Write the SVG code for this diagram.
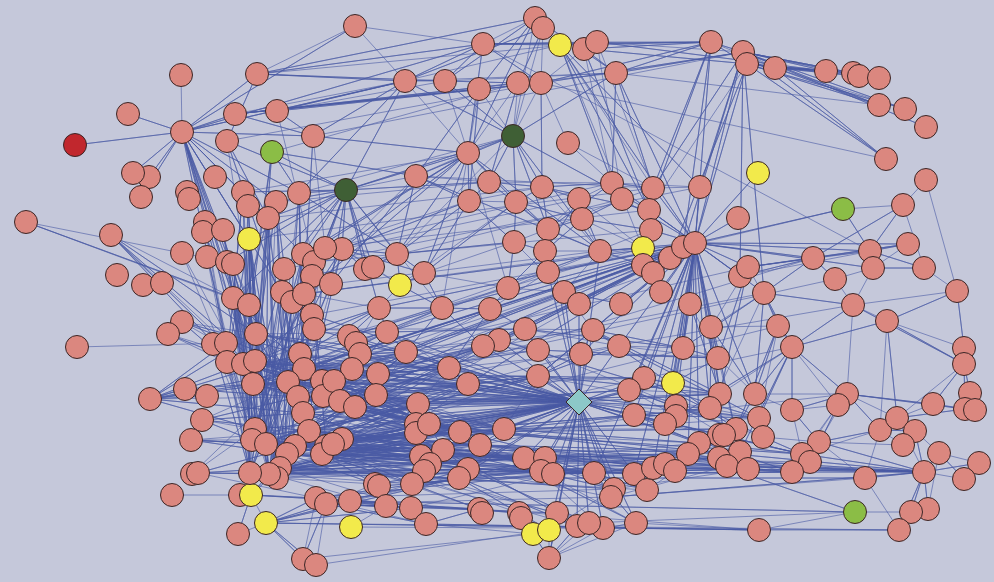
<svg xmlns="http://www.w3.org/2000/svg" width="994" height="582" viewBox="0 0 994 582">
<style>
.bg{fill:#c5c8da}
#edges path{fill:none;stroke:#4a5aa5;stroke-width:0.85;stroke-opacity:0.72;stroke-linejoin:round}
#nodes circle,#nodes polygon{stroke:#3b2626;stroke-width:1}
.p{fill:#db877f}.y{fill:#f2ea4b}.g{fill:#8bbd46}.d{fill:#3f5f35}.r{fill:#c1272d}.t{fill:#8cc8c8}
</style>
<rect class="bg" x="0" y="0" width="994" height="582"/>
<g id="edges">
<path d="M181 75L182 132 128 114 182 132 75 145 182 132 133 173 182 132 149 177 182 132 141 197 182 132 257 74 182 132 405 81 182 132 483 44 182 132 355 26 182 132 235 114 182 132 313 136 182 132 299 193 182 132 233 298 182 132 249 305 182 132 256 334 182 132 243 364 182 132 255 361 182 132 253 384 182 132 227 262 182 132 249 239 182 132 268 218 182 132 303 254 182 132 226 343 182 132 282 292 182 132 276 202 182 132 560 45"/>
<path d="M355 26L257 74 405 81 257 74 483 44 257 74 445 81 257 74 535 18 257 74 227 141 257 74 597 42"/>
<path d="M405 81L235 114 479 89 235 114 518 83 235 114 541 83 235 114 313 136 235 114 616 73"/>
<path d="M445 81L277 111 405 81 277 111 541 83 277 111 313 136 277 111 314 262"/>
<path d="M256 334L227 141 268 218 227 141 304 369 227 141 346 190 227 141 541 83"/>
<path d="M249 305L272 152 255 361 272 152 243 364 272 152 299 193 272 152 346 190 272 152 416 176 272 152 518 83"/>
<path d="M325 248L313 136 304 294 313 136 468 153 313 136 405 81 313 136 743 52"/>
<path d="M227 262L26 222 233 298 26 222 249 305"/>
<path d="M233 298L111 235 256 334 111 235 243 364 111 235 253 384 111 235 255 361 111 235 226 343"/>
<path d="M77 347L226 343"/>
<path d="M185 389L150 399 207 396 150 399 256 334 150 399 243 364 150 399 253 384 150 399 300 354 150 399 288 382 150 399 304 369 150 399 303 413 150 399 255 429 150 399 226 343 150 399 298 397"/>
<path d="M256 334L182 322 304 369 182 322 300 354 182 322 253 384 182 322 288 382"/>
<path d="M255 361L168 334 243 364 168 334 298 397"/>
<path d="M253 384L185 389 298 397 185 389 288 382"/>
<path d="M255 429L202 420 252 440 202 420 298 397 202 420 303 413 202 420 309 431 202 420 288 382"/>
<path d="M252 440L191 440 295 446 191 440 266 444 191 440 287 454 191 440 309 431"/>
<path d="M250 473L198 473 269 474 198 473 295 446 198 473 280 468 198 473 316 498"/>
<path d="M255 429L192 474 288 382 M172 495L240 495"/>
<path d="M266 523L251 495 238 534 251 495 269 474 251 495 316 498 251 495 350 501 251 495 280 468 251 495 240 495"/>
<path d="M238 534L266 523 303 559 266 523 316 565 266 523 316 498 266 523 326 504 266 523 350 501 266 523 411 508 266 523 459 478 266 523 759 530 266 523 899 530"/>
<path d="M533 534L303 559 326 504 303 559 316 498 M549 530L316 565 326 504"/>
<path d="M250 473L249 239 269 474 249 239 252 440 249 239 255 429 249 239 253 384 249 239 243 364 249 239 227 362 249 239 277 478 249 239 266 444 249 239 287 454 249 239 653 188"/>
<path d="M250 473L268 218 277 478 268 218 255 429 268 218 253 384 268 218 227 362 268 218 280 468 268 218 266 444 268 218 295 446 268 218 542 187"/>
<path d="M252 440L248 206 269 474 248 206 243 364 248 206 256 334"/>
<path d="M255 429L243 192 250 473 243 192 227 362 243 192 233 298 243 192 468 153"/>
<path d="M266 444L276 202 287 454 276 202 303 413 276 202 255 361 276 202 288 382 276 202 489 182"/>
<path d="M269 474L299 193 280 468 299 193 304 369 299 193 303 413 299 193 346 190 299 193 397 254 299 193 513 136"/>
<path d="M250 473L233 264 277 478 233 264 252 440 233 264 309 431"/>
<path d="M255 429L227 262 269 474 227 262 266 444"/>
<path d="M243 364L223 230 253 384 223 230 252 440"/>
<path d="M256 334L203 232 255 361 M226 343L205 222 227 362 M250 473L207 257 252 440 M253 384L182 253 255 429"/>
<path d="M277 478L284 269 295 446 284 269 253 384 284 269 250 473 284 269 700 187"/>
<path d="M269 474L303 254 266 444 303 254 255 429 303 254 287 454 303 254 612 183"/>
<path d="M280 468L314 262 252 440 314 262 303 413 314 262 651 230"/>
<path d="M255 429L312 276 250 473 312 276 326 446 312 276 622 199"/>
<path d="M287 454L325 248 269 474 325 248 309 431 325 248 649 210"/>
<path d="M266 444L331 284 250 473 331 284 600 251"/>
<path d="M280 468L342 249 255 429 342 249 253 384 342 249 295 446 342 249 579 199"/>
<path d="M269 474L233 298 287 454 233 298 304 369 233 298 322 454 233 298 250 473 233 298 252 440 233 298 255 429"/>
<path d="M252 440L249 305 280 468 249 305 309 431 249 305 326 446 249 305 250 473 249 305 269 474 249 305 277 478"/>
<path d="M277 478L256 334 322 454 256 334 303 413"/>
<path d="M250 473L282 292 266 444 282 292 298 397"/>
<path d="M252 440L292 302 269 474 292 302 322 381"/>
<path d="M255 429L304 294 280 468 304 294 643 248"/>
<path d="M250 473L312 315 266 444 312 315 243 364 312 315 695 243"/>
<path d="M252 440L314 329 269 474"/>
<path d="M250 473L226 343 252 440 226 343 269 474 M252 440L213 344 250 473 213 344 255 429 M250 473L243 364 269 474 243 364 252 440 M250 473L227 362 252 440"/>
<path d="M376 395L266 444 418 404 266 444 460 432 266 444 480 445 266 444 504 429 266 444 524 458 266 444 545 458 266 444 594 473 266 444 355 407 266 444 449 368 266 444 483 346"/>
<path d="M378 374L287 454 406 352 287 454 449 368 287 454 468 384 287 454 538 376 287 454 418 404 287 454 429 424 287 454 480 445 287 454 553 474 287 454 634 474"/>
<path d="M379 308L280 468 387 332 280 468 406 352 280 468 460 432 280 468 504 429 280 468 524 458 280 468 594 473 280 468 614 489 280 468 647 490"/>
<path d="M379 308L253 384 442 308 253 384 490 309 253 384 406 352 253 384 449 368 253 384 468 384 253 384 538 376 253 384 418 404 253 384 429 424 253 384 416 433 253 384 443 450"/>
<path d="M378 374L243 364 376 395 243 364 418 404 243 364 460 432 243 364 480 445 243 364 449 368 243 364 499 340"/>
<path d="M406 352L255 361 449 368 255 361 468 384 255 361 418 404 255 361 460 432 255 361 352 369 255 361 340 401"/>
<path d="M416 433L250 473 443 450 250 473 459 478 250 473 468 469 250 473 524 458 250 473 545 458 250 473 594 473"/>
<path d="M421 456L269 474 429 424 269 474 480 445 269 474 504 429 269 474 541 471"/>
<path d="M355 407L252 440 376 395 252 440 418 404 252 440 460 432 252 440 443 450 252 440 421 456"/>
<path d="M406 352L298 397 418 404 298 397 460 432 298 397 480 445 298 397 504 429 298 397 524 458"/>
<path d="M360 354L288 382 387 332 288 382 449 368 288 382 468 384 288 382 418 404 288 382 429 424"/>
<path d="M418 404L304 369 429 424 304 369 460 432 304 369 480 445"/>
<path d="M352 369L303 413 378 374 303 413 406 352 303 413 483 346 303 413 499 340 303 413 525 329"/>
<path d="M376 395L309 431 418 404 309 431 468 384 309 431 538 376 309 431 480 445 309 431 524 458"/>
<path d="M406 352L295 446 418 404 295 446 460 432 295 446 504 429 295 446 468 469"/>
<path d="M378 374L326 446 418 404 326 446 460 432 326 446 504 429 M376 395L322 454 416 424 322 454 468 384 322 454 460 432"/>
<path d="M418 404L227 362 443 450 227 362 352 369 227 362 378 374 M387 332L256 334 406 352 256 334 449 368 256 334 418 404"/>
<path d="M255 361L579 402 253 384 579 402 288 382 579 402 298 397 579 402 304 369 579 402 322 381 579 402 323 396 579 402 303 413 579 402 309 431 579 402 255 429 579 402 266 444 579 402 295 446 579 402 287 454 579 402 280 468 579 402 326 446 579 402 322 454 579 402 300 354 579 402 243 364 579 402 256 334 579 402 314 329 579 402 312 315 579 402 342 439 579 402 333 444 579 402 340 401 579 402 355 407 579 402 352 369 579 402 334 381 579 402 376 395 579 402 378 374 579 402 418 404 579 402 429 424 579 402 416 433 579 402 460 432 579 402 480 445 579 402 504 429 579 402 443 450 579 402 421 456 579 402 468 469 579 402 459 478 579 402 524 458 579 402 545 458 579 402 541 471 579 402 553 474 579 402 594 473 579 402 614 489 579 402 538 376 579 402 538 350 579 402 581 354 579 402 593 330 579 402 619 346 579 402 579 304 579 402 564 292 579 402 600 251 579 402 548 272 579 402 629 390 579 402 644 378 579 402 634 415 579 402 673 383 579 402 665 424 579 402 676 416 579 402 710 408 579 402 720 394 579 402 699 443 579 402 802 454 579 402 792 472 579 402 611 497 579 402 647 490 579 402 549 530 579 402 557 513 579 402 577 526 579 402 589 523 579 402 603 528 579 402 636 523 579 402 549 558 579 402 548 229 579 402 483 346 579 402 499 340 579 402 525 329 579 402 406 352 579 402 449 368 579 402 468 384 579 402 387 332 579 402 360 354 579 402 349 336 579 402 252 440 579 402 269 474 579 402 250 473 579 402 759 418"/>
<path d="M683 247L695 243 670 258 695 243 651 230 695 243 653 273 695 243 643 265 695 243 661 292 695 243 690 304 695 243 711 327 695 243 683 348 695 243 718 358 695 243 673 383 695 243 676 406 695 243 665 424 695 243 629 390 695 243 644 378 695 243 634 415 695 243 619 346 695 243 593 330 695 243 581 354 695 243 621 304 695 243 579 304 695 243 564 292 695 243 538 376 695 243 525 329 695 243 499 340 695 243 483 346 695 243 442 308 695 243 406 352 695 243 449 368 695 243 468 384 695 243 379 308 695 243 387 332 695 243 360 354 695 243 322 381 695 243 304 369 695 243 298 397 695 243 253 384 695 243 304 294 695 243 594 473 695 243 634 474 695 243 653 468 695 243 665 464 695 243 688 454 695 243 699 443 695 243 724 435 695 243 720 394 695 243 710 408 695 243 755 394 695 243 740 452 695 243 748 267 695 243 740 276 695 243 738 218 695 243 700 187 695 243 813 258 695 243 870 251 695 243 908 244 695 243 873 268 695 243 843 209 695 243 764 293 695 243 758 173 695 243 711 42 695 243 743 52 695 243 747 64 695 243 616 73 695 243 560 45 695 243 653 188 695 243 649 210 695 243 612 183 695 243 622 199 695 243 600 251 695 243 548 272 695 243 303 413 695 243 309 431"/>
<path d="M597 42L711 42 584 49 711 42 560 45 711 42 483 44 711 42 541 83 711 42 616 73 711 42 653 188 711 42 649 210 711 42 683 247 711 42 743 52 711 42 747 64 711 42 775 68"/>
<path d="M775 68L743 52 826 71 743 52 853 73 743 52 859 76 743 52 879 78 743 52 879 105 743 52 905 109 743 52 926 127 743 52 886 159 743 52 616 73 743 52 541 83 743 52 683 247 743 52 653 188 743 52 700 187 743 52 740 276 743 52 764 293 743 52 597 42"/>
<path d="M775 68L747 64 826 71 747 64 853 73 747 64 879 78 747 64 879 105 747 64 905 109 747 64 886 159 747 64 670 258 747 64 649 210"/>
<path d="M826 71L775 68 853 73 775 68 879 105 775 68 886 159 775 68 859 76 775 68 905 109 M541 83L886 159"/>
<path d="M870 251L483 44 405 81 483 44 445 81 483 44 541 83 483 44 597 42 483 44 560 45 483 44 468 153 483 44 355 26"/>
<path d="M903 205L843 209 870 251 843 209 683 247"/>
<path d="M926 180L903 205 870 251 903 205 813 258 903 205 924 268 M926 180L957 291"/>
<path d="M870 251L813 258 835 279 813 258 748 267 813 258 764 293 813 258 740 276 813 258 908 244"/>
<path d="M908 244L870 251 873 268 870 251 924 268 870 251 748 267 M873 268L908 244 748 267 908 244 740 276"/>
<path d="M835 279L873 268 924 268 873 268 853 305 M835 279L853 305"/>
<path d="M924 268L957 291 887 321 957 291 964 348 957 291 853 305"/>
<path d="M792 347L748 267 720 394 748 267 718 358 748 267 711 327"/>
<path d="M711 327L764 293 778 326 764 293 792 347 764 293 755 394 764 293 683 348 764 293 853 305 764 293 710 408"/>
<path d="M718 358L690 304 683 348 690 304 720 394 690 304 665 424"/>
<path d="M887 321L853 305 964 364 853 305 792 347 853 305 847 394"/>
<path d="M964 348L887 321 964 364 887 321 792 347 887 321 897 418 887 321 880 430"/>
<path d="M778 326L711 327 720 394 711 327 710 408 711 327 755 394 711 327 740 452"/>
<path d="M792 347L778 326 755 394 778 326 736 429 778 326 759 418"/>
<path d="M838 405L792 347 847 394 792 347 755 394 792 347 792 410 792 347 759 418 792 347 740 452 792 347 665 424 792 347 720 394"/>
<path d="M964 348L964 364 970 393 964 364 933 404 964 364 965 409 964 364 897 418"/>
<path d="M792 410L755 394 736 429 755 394 847 394"/>
<path d="M838 405L792 410 847 394 792 410 819 442 792 410 802 454"/>
<path d="M897 418L847 394 933 404 847 394 965 409 847 394 880 430 847 394 819 442"/>
<path d="M802 454L838 405 810 462 838 405 792 472"/>
<path d="M903 445L880 430 915 431 880 430 897 418 880 430 865 478"/>
<path d="M933 404L897 418 965 409 897 418 915 431 897 418 924 472"/>
<path d="M939 453L915 431 924 472 915 431 903 445"/>
<path d="M979 463L939 453 964 479 939 453 924 472"/>
<path d="M964 479L924 472 979 463 924 472 899 530 924 472 911 512 924 472 928 509 924 472 802 454 924 472 819 442 924 472 865 478 924 472 792 472 924 472 303 413 924 472 322 454 924 472 443 450 924 472 480 445 924 472 545 458 924 472 611 497 924 472 653 468 924 472 727 466 924 472 748 469"/>
<path d="M965 409L933 404 975 410"/>
<path d="M899 530L865 478 459 478 865 478 611 497"/>
<path d="M865 478L819 442 880 430 819 442 903 445"/>
<path d="M880 430L802 454 460 432 802 454 634 415 802 454 699 443 802 454 665 424"/>
<path d="M928 509L911 512 899 530 911 512 855 512 M928 509L939 453"/>
<path d="M759 530L899 530 928 509 899 530 351 527"/>
<path d="M759 530L855 512 688 454 855 512 350 501 855 512 589 523"/>
<path d="M636 523L759 530 426 524 759 530 479 509"/>
<path d="M322 454L792 472 480 445 792 472 634 474 792 472 594 473 792 472 524 458 792 472 688 454"/>
<path d="M421 456L810 462 553 474"/>
<path d="M538 376L759 418 499 340 759 418 619 346 759 418 468 384 759 418 634 415 759 418 665 424"/>
<path d="M504 429L736 429 460 432 736 429 629 390 736 429 593 330 736 429 538 350"/>
<path d="M524 458L740 452 480 445 740 452 443 450 740 452 545 458 740 452 653 468"/>
<path d="M594 473L748 469 553 474 748 469 468 469 748 469 614 489"/>
<path d="M541 471L719 458 429 424 719 458 322 454 719 458 665 464"/>
<path d="M611 497L727 466 524 458"/>
<path d="M460 432L699 443 504 429 699 443 634 415 699 443 545 458"/>
<path d="M421 456L688 454 459 478 688 454 614 489"/>
<path d="M541 471L665 464 594 473 665 464 480 445"/>
<path d="M647 490L675 471 553 474 675 471 468 469"/>
<path d="M629 390L763 437 644 378 763 437 802 454 763 437 819 442"/>
<path d="M629 390L720 394 644 378 720 394 593 330 720 394 538 376 720 394 418 404 720 394 673 383"/>
<path d="M634 415L710 408 504 429 710 408 665 424"/>
<path d="M619 346L718 358 581 354 718 358 538 350 718 358 673 383 718 358 683 348 718 358 755 394"/>
<path d="M619 346L683 348 593 330 683 348 525 329 683 348 673 383"/>
<path d="M629 390L673 383 644 378 M634 415L676 416 629 390"/>
<path d="M460 432L665 424 504 429 665 424 634 415 M676 406L724 435 634 415"/>
<path d="M255 361L429 424 253 384 429 424 298 397 429 424 304 369 429 424 266 444 429 424 287 454 429 424 322 381 429 424 342 439 429 424 443 450 429 424 418 404 429 424 504 429 429 424 460 432"/>
<path d="M252 440L443 450 266 444 443 450 295 446 443 450 309 431 443 450 280 468 443 450 322 454 443 450 333 444 443 450 468 469 443 450 524 458"/>
<path d="M250 473L468 469 269 474 468 469 287 454 468 469 326 446 468 469 303 413 468 469 375 484 468 469 412 484 468 469 541 471"/>
<path d="M255 429L480 445 288 382 480 445 309 431 480 445 326 446 480 445 342 439 480 445 355 407 480 445 504 429 480 445 545 458"/>
<path d="M253 384L460 432 298 397 460 432 303 413 460 432 323 396 460 432 340 401 460 432 376 395 460 432 418 404"/>
<path d="M304 369L504 429 322 381 504 429 288 382 504 429 266 444 504 429 538 376"/>
<path d="M295 446L524 458 287 454 524 458 309 431 524 458 421 456 524 458 430 464"/>
<path d="M280 468L545 458 326 446 545 458 342 439 545 458 459 478 545 458 524 458"/>
<path d="M277 478L541 471 322 454 541 471 412 484 541 471 375 484"/>
<path d="M269 474L553 474 316 498 553 474 379 486 553 474 411 508"/>
<path d="M295 446L594 473 322 454 594 473 443 450 594 473 468 469 594 473 611 497"/>
<path d="M250 473L421 456 266 444 421 456 303 413 421 456 326 446 421 456 342 439"/>
<path d="M277 478L430 464 309 431 430 464 333 444 M269 474L424 471 287 454 424 471 322 454"/>
<path d="M280 468L459 478 316 498 459 478 326 504 459 478 350 501"/>
<path d="M250 473L412 484 295 446 412 484 326 446 412 484 350 501"/>
<path d="M277 478L375 484 287 454 375 484 322 454 375 484 326 504"/>
<path d="M269 474L386 506 316 498 386 506 326 504 386 506 351 527"/>
<path d="M280 468L411 508 326 504 411 508 350 501 411 508 426 524"/>
<path d="M316 498L426 524 326 504 426 524 479 509 426 524 533 534"/>
<path d="M322 454L479 509 326 504 479 509 350 501 479 509 412 484 479 509 519 513"/>
<path d="M326 446L519 513 316 498 519 513 459 478 519 513 533 534 519 513 549 530 519 513 549 558"/>
<path d="M295 446L557 513 326 504 557 513 443 450 557 513 549 558 557 513 577 526"/>
<path d="M322 454L577 526 459 478 577 526 549 558 577 526 603 528"/>
<path d="M326 446L589 523 468 469 589 523 549 558 M524 458L603 528 636 523 603 528 549 558"/>
<path d="M541 471L636 523 480 445 636 523 594 473 636 523 549 558 M533 534L549 558 549 530"/>
<path d="M316 498L614 489 443 450 614 489 524 458 614 489 549 530 M326 504L611 497 468 469"/>
<path d="M303 413L647 490 545 458 647 490 594 473 M322 454L634 474 460 432 634 474 541 471"/>
<path d="M326 446L653 468 480 445 653 468 594 473"/>
<path d="M304 294L379 308 314 329 379 308 387 332 379 308 442 308 379 308 349 336 379 308 255 361 379 308 253 384"/>
<path d="M304 369L442 308 349 336 442 308 406 352 442 308 483 346 442 308 490 309 442 308 468 153"/>
<path d="M406 352L490 309 449 368 490 309 525 329 490 309 548 272"/>
<path d="M314 329L387 332 300 354 387 332 406 352 387 332 449 368"/>
<path d="M322 381L406 352 304 369 406 352 360 354 406 352 449 368 406 352 376 395"/>
<path d="M304 369L483 346 322 381 483 346 378 374 483 346 449 368"/>
<path d="M298 397L499 340 355 407 499 340 525 329 499 340 538 350"/>
<path d="M314 329L525 329 387 332 525 329 538 350 525 329 593 330"/>
<path d="M352 369L538 350 378 374 538 350 483 346"/>
<path d="M406 352L593 330 538 376 593 330 619 346 593 330 581 354 M525 329L619 346 538 376 619 346 581 354"/>
<path d="M468 384L581 354 538 376 581 354 449 368"/>
<path d="M300 354L449 368 288 382 449 368 340 401 449 368 418 404"/>
<path d="M298 397L468 384 323 396 468 384 355 407 468 384 416 424"/>
<path d="M309 431L538 376 340 401 538 376 376 395 538 376 418 404"/>
<path d="M355 407L629 390 418 404 629 390 504 429 M334 381L644 378 378 374 644 378 468 384"/>
<path d="M342 439L634 415 416 433 634 415 480 445"/>
<path d="M300 354L378 374 322 381 378 374 304 369 M298 397L376 395 303 413 376 395 323 396"/>
<path d="M304 369L352 369 288 382 M303 413L418 404 309 431 418 404 340 401 418 404 355 407"/>
<path d="M295 446L416 424 309 431 416 424 342 439 M287 454L416 433 333 444 416 433 326 446"/>
<path d="M295 446L342 439 309 431 M303 413L340 401 298 397 M323 396L355 407 309 431"/>
<path d="M355 26L405 81 M513 136L535 18 468 153 535 18 445 81 535 18 479 89 535 18 616 73 535 18 483 44"/>
<path d="M513 136L543 28 518 83 543 28 405 81 543 28 541 83"/>
<path d="M653 188L560 45 649 210 560 45 612 183 560 45 700 187 560 45 653 273"/>
<path d="M612 183L584 49 649 210 584 49 826 71 584 49 616 73 584 49 541 83"/>
<path d="M653 188L597 42 826 71 597 42 622 199"/>
<path d="M879 105L616 73 653 188 616 73 612 183 616 73 405 81"/>
<path d="M468 153L405 81 513 136 405 81 346 190 405 81 299 193 405 81 445 81"/>
<path d="M468 153L445 81 513 136 445 81 518 83 445 81 616 73"/>
<path d="M468 153L479 89 469 201 479 89 416 176 479 89 513 136"/>
<path d="M513 136L518 83 541 83 518 83 489 182 518 83 468 153"/>
<path d="M513 136L541 83 542 187 541 83 568 143"/>
<path d="M468 153L513 136 489 182 513 136 542 187 513 136 616 73 513 136 649 210 513 136 346 190 513 136 416 176 513 136 516 202 513 136 548 229 513 136 600 251 513 136 397 254"/>
<path d="M612 183L568 143 653 188"/>
<path d="M416 176L468 153 346 190 468 153 469 201 468 153 516 202 468 153 342 249 468 153 397 254 468 153 424 273 468 153 548 229 468 153 600 251 468 153 303 254 468 153 284 269 468 153 304 294 468 153 508 288"/>
<path d="M416 176L346 190 342 249 346 190 325 248 346 190 303 254 346 190 312 276 346 190 284 269 346 190 397 254 346 190 373 267 346 190 304 294 346 190 331 284 346 190 365 269 346 190 249 239 346 190 268 218 346 190 276 202 346 190 243 192 346 190 227 262 346 190 233 298 346 190 379 308 346 190 442 308"/>
<path d="M342 249L416 176 397 254 416 176 331 284 416 176 469 201 416 176 600 251 416 176 653 188"/>
<path d="M416 176L489 182 542 187 489 182 548 229 489 182 469 201 489 182 346 190 489 182 612 183"/>
<path d="M469 201L542 187 516 202 542 187 579 199 542 187 548 229 542 187 612 183 542 187 649 210 542 187 600 251"/>
<path d="M579 199L612 183 548 229 612 183 653 188 612 183 700 187"/>
<path d="M548 229L622 199 582 219 622 199 653 188 M700 187L653 188 649 210"/>
<path d="M516 202L469 201 424 273 469 201 397 254 469 201 514 242 469 201 342 249 469 201 303 254"/>
<path d="M548 229L516 202 514 242 516 202 582 219 516 202 424 273 516 202 400 285"/>
<path d="M548 229L579 199 582 219 579 199 600 251 579 199 545 251 579 199 643 248"/>
<path d="M514 242L548 229 545 251 548 229 582 219 548 229 600 251"/>
<path d="M643 248L582 219 651 230 582 219 545 251 582 219 600 251"/>
<path d="M424 273L514 242 397 254 514 242 545 251 514 242 508 288 514 242 564 292"/>
<path d="M548 272L545 251 508 288 545 251 600 251"/>
<path d="M548 272L600 251 643 248 600 251 643 265 600 251 564 292 M643 265L643 248 651 230"/>
<path d="M508 288L548 272 564 292"/>
<path d="M373 267L342 249 365 269 342 249 397 254 342 249 424 273 342 249 400 285"/>
<path d="M373 267L397 254 424 273 397 254 365 269 397 254 400 285 397 254 312 276"/>
<path d="M508 288L424 273 442 308 424 273 400 285 M373 267L400 285 442 308 400 285 379 308"/>
<path d="M442 308L508 288 490 309 508 288 564 292 M579 304L564 292 621 304 564 292 593 330"/>
<path d="M304 369L683 247 M322 381L670 258 M298 397L653 273 M288 382L643 265 M326 446L683 247 M253 384L651 230 M255 361L643 248 M300 354L600 251 M303 413L813 258 M322 381L764 293 M304 369L748 267 M298 397L835 279 M323 396L853 305 M326 446L792 347 M322 454L847 394 M295 446L778 326"/>
</g>
<g id="nodes">
<g id="n1" class="p"><circle cx="355" cy="26" r="11.5"/></g>
<g id="n2" class="p"><circle cx="535" cy="18" r="11.5"/></g>
<g id="n3" class="p"><circle cx="543" cy="28" r="11.5"/></g>
<g id="n4" class="y"><circle cx="560" cy="45" r="11.5"/></g>
<g id="n5" class="p"><circle cx="584" cy="49" r="11.5"/></g>
<g id="n6" class="p"><circle cx="597" cy="42" r="11.5"/></g>
<g id="n7" class="p"><circle cx="483" cy="44" r="11.5"/></g>
<g id="n8" class="p"><circle cx="616" cy="73" r="11.5"/></g>
<g id="n9" class="p"><circle cx="405" cy="81" r="11.5"/></g>
<g id="n10" class="p"><circle cx="445" cy="81" r="11.5"/></g>
<g id="n11" class="p"><circle cx="479" cy="89" r="11.5"/></g>
<g id="n12" class="p"><circle cx="518" cy="83" r="11.5"/></g>
<g id="n13" class="p"><circle cx="541" cy="83" r="11.5"/></g>
<g id="n14" class="d"><circle cx="513" cy="136" r="11.5"/></g>
<g id="n15" class="p"><circle cx="568" cy="143" r="11.5"/></g>
<g id="n16" class="p"><circle cx="468" cy="153" r="11.5"/></g>
<g id="n17" class="d"><circle cx="346" cy="190" r="11.5"/></g>
<g id="n18" class="p"><circle cx="416" cy="176" r="11.5"/></g>
<g id="n19" class="p"><circle cx="489" cy="182" r="11.5"/></g>
<g id="n20" class="p"><circle cx="542" cy="187" r="11.5"/></g>
<g id="n21" class="p"><circle cx="612" cy="183" r="11.5"/></g>
<g id="n22" class="p"><circle cx="622" cy="199" r="11.5"/></g>
<g id="n23" class="p"><circle cx="653" cy="188" r="11.5"/></g>
<g id="n24" class="p"><circle cx="469" cy="201" r="11.5"/></g>
<g id="n25" class="p"><circle cx="516" cy="202" r="11.5"/></g>
<g id="n26" class="p"><circle cx="579" cy="199" r="11.5"/></g>
<g id="n27" class="p"><circle cx="649" cy="210" r="11.5"/></g>
<g id="n28" class="p"><circle cx="548" cy="229" r="11.5"/></g>
<g id="n29" class="p"><circle cx="582" cy="219" r="11.5"/></g>
<g id="n30" class="p"><circle cx="651" cy="230" r="11.5"/></g>
<g id="n31" class="p"><circle cx="514" cy="242" r="11.5"/></g>
<g id="n32" class="p"><circle cx="545" cy="251" r="11.5"/></g>
<g id="n33" class="p"><circle cx="600" cy="251" r="11.5"/></g>
<g id="n34" class="y"><circle cx="643" cy="248" r="11.5"/></g>
<g id="n35" class="p"><circle cx="548" cy="272" r="11.5"/></g>
<g id="n36" class="p"><circle cx="643" cy="265" r="11.5"/></g>
<g id="n37" class="p"><circle cx="653" cy="273" r="11.5"/></g>
<g id="n38" class="p"><circle cx="342" cy="249" r="11.5"/></g>
<g id="n39" class="p"><circle cx="397" cy="254" r="11.5"/></g>
<g id="n40" class="p"><circle cx="365" cy="269" r="11.5"/></g>
<g id="n41" class="p"><circle cx="373" cy="267" r="11.5"/></g>
<g id="n42" class="p"><circle cx="424" cy="273" r="11.5"/></g>
<g id="n43" class="y"><circle cx="400" cy="285" r="11.5"/></g>
<g id="n44" class="p"><circle cx="508" cy="288" r="11.5"/></g>
<g id="n45" class="p"><circle cx="564" cy="292" r="11.5"/></g>
<g id="n46" class="p"><circle cx="711" cy="42" r="11.5"/></g>
<g id="n47" class="p"><circle cx="743" cy="52" r="11.5"/></g>
<g id="n48" class="p"><circle cx="747" cy="64" r="11.5"/></g>
<g id="n49" class="p"><circle cx="775" cy="68" r="11.5"/></g>
<g id="n50" class="p"><circle cx="826" cy="71" r="11.5"/></g>
<g id="n51" class="p"><circle cx="853" cy="73" r="11.5"/></g>
<g id="n52" class="p"><circle cx="859" cy="76" r="11.5"/></g>
<g id="n53" class="p"><circle cx="879" cy="78" r="11.5"/></g>
<g id="n54" class="p"><circle cx="879" cy="105" r="11.5"/></g>
<g id="n55" class="p"><circle cx="905" cy="109" r="11.5"/></g>
<g id="n56" class="p"><circle cx="926" cy="127" r="11.5"/></g>
<g id="n57" class="p"><circle cx="886" cy="159" r="11.5"/></g>
<g id="n58" class="y"><circle cx="758" cy="173" r="11.5"/></g>
<g id="n59" class="p"><circle cx="926" cy="180" r="11.5"/></g>
<g id="n60" class="g"><circle cx="843" cy="209" r="11.5"/></g>
<g id="n61" class="p"><circle cx="903" cy="205" r="11.5"/></g>
<g id="n62" class="p"><circle cx="700" cy="187" r="11.5"/></g>
<g id="n63" class="p"><circle cx="738" cy="218" r="11.5"/></g>
<g id="n64" class="p"><circle cx="670" cy="258" r="11.5"/></g>
<g id="n65" class="p"><circle cx="683" cy="247" r="11.5"/></g>
<g id="n66" class="p"><circle cx="695" cy="243" r="11.5"/></g>
<g id="n67" class="p"><circle cx="740" cy="276" r="11.5"/></g>
<g id="n68" class="p"><circle cx="748" cy="267" r="11.5"/></g>
<g id="n69" class="p"><circle cx="813" cy="258" r="11.5"/></g>
<g id="n70" class="p"><circle cx="870" cy="251" r="11.5"/></g>
<g id="n71" class="p"><circle cx="908" cy="244" r="11.5"/></g>
<g id="n72" class="p"><circle cx="873" cy="268" r="11.5"/></g>
<g id="n73" class="p"><circle cx="924" cy="268" r="11.5"/></g>
<g id="n74" class="p"><circle cx="835" cy="279" r="11.5"/></g>
<g id="n75" class="p"><circle cx="957" cy="291" r="11.5"/></g>
<g id="n76" class="p"><circle cx="764" cy="293" r="11.5"/></g>
<g id="n77" class="p"><circle cx="661" cy="292" r="11.5"/></g>
<g id="n78" class="p"><circle cx="181" cy="75" r="11.5"/></g>
<g id="n79" class="p"><circle cx="257" cy="74" r="11.5"/></g>
<g id="n80" class="p"><circle cx="128" cy="114" r="11.5"/></g>
<g id="n81" class="p"><circle cx="182" cy="132" r="11.5"/></g>
<g id="n82" class="r"><circle cx="75" cy="145" r="11.5"/></g>
<g id="n83" class="p"><circle cx="235" cy="114" r="11.5"/></g>
<g id="n84" class="p"><circle cx="277" cy="111" r="11.5"/></g>
<g id="n85" class="p"><circle cx="227" cy="141" r="11.5"/></g>
<g id="n86" class="g"><circle cx="272" cy="152" r="11.5"/></g>
<g id="n87" class="p"><circle cx="313" cy="136" r="11.5"/></g>
<g id="n88" class="p"><circle cx="149" cy="177" r="11.5"/></g>
<g id="n89" class="p"><circle cx="133" cy="173" r="11.5"/></g>
<g id="n90" class="p"><circle cx="141" cy="197" r="11.5"/></g>
<g id="n91" class="p"><circle cx="187" cy="192" r="11.5"/></g>
<g id="n92" class="p"><circle cx="189" cy="199" r="11.5"/></g>
<g id="n93" class="p"><circle cx="215" cy="177" r="11.5"/></g>
<g id="n94" class="p"><circle cx="243" cy="192" r="11.5"/></g>
<g id="n95" class="p"><circle cx="276" cy="202" r="11.5"/></g>
<g id="n96" class="p"><circle cx="248" cy="206" r="11.5"/></g>
<g id="n97" class="p"><circle cx="268" cy="218" r="11.5"/></g>
<g id="n98" class="p"><circle cx="299" cy="193" r="11.5"/></g>
<g id="n99" class="p"><circle cx="26" cy="222" r="11.5"/></g>
<g id="n100" class="p"><circle cx="111" cy="235" r="11.5"/></g>
<g id="n101" class="p"><circle cx="182" cy="253" r="11.5"/></g>
<g id="n102" class="p"><circle cx="205" cy="222" r="11.5"/></g>
<g id="n103" class="p"><circle cx="203" cy="232" r="11.5"/></g>
<g id="n104" class="p"><circle cx="207" cy="257" r="11.5"/></g>
<g id="n105" class="p"><circle cx="223" cy="230" r="11.5"/></g>
<g id="n106" class="p"><circle cx="227" cy="262" r="11.5"/></g>
<g id="n107" class="p"><circle cx="233" cy="264" r="11.5"/></g>
<g id="n108" class="y"><circle cx="249" cy="239" r="11.5"/></g>
<g id="n109" class="p"><circle cx="117" cy="275" r="11.5"/></g>
<g id="n110" class="p"><circle cx="143" cy="285" r="11.5"/></g>
<g id="n111" class="p"><circle cx="162" cy="283" r="11.5"/></g>
<g id="n112" class="p"><circle cx="303" cy="254" r="11.5"/></g>
<g id="n113" class="p"><circle cx="314" cy="262" r="11.5"/></g>
<g id="n114" class="p"><circle cx="284" cy="269" r="11.5"/></g>
<g id="n115" class="p"><circle cx="312" cy="276" r="11.5"/></g>
<g id="n116" class="p"><circle cx="325" cy="248" r="11.5"/></g>
<g id="n117" class="p"><circle cx="331" cy="284" r="11.5"/></g>
<g id="n118" class="p"><circle cx="77" cy="347" r="11.5"/></g>
<g id="n119" class="p"><circle cx="182" cy="322" r="11.5"/></g>
<g id="n120" class="p"><circle cx="168" cy="334" r="11.5"/></g>
<g id="n121" class="p"><circle cx="150" cy="399" r="11.5"/></g>
<g id="n122" class="p"><circle cx="185" cy="389" r="11.5"/></g>
<g id="n123" class="p"><circle cx="207" cy="396" r="11.5"/></g>
<g id="n124" class="p"><circle cx="202" cy="420" r="11.5"/></g>
<g id="n125" class="p"><circle cx="191" cy="440" r="11.5"/></g>
<g id="n126" class="p"><circle cx="192" cy="474" r="11.5"/></g>
<g id="n127" class="p"><circle cx="198" cy="473" r="11.5"/></g>
<g id="n128" class="p"><circle cx="172" cy="495" r="11.5"/></g>
<g id="n129" class="p"><circle cx="240" cy="495" r="11.5"/></g>
<g id="n130" class="y"><circle cx="251" cy="495" r="11.5"/></g>
<g id="n131" class="p"><circle cx="238" cy="534" r="11.5"/></g>
<g id="n132" class="y"><circle cx="266" cy="523" r="11.5"/></g>
<g id="n133" class="p"><circle cx="303" cy="559" r="11.5"/></g>
<g id="n134" class="p"><circle cx="316" cy="565" r="11.5"/></g>
<g id="n135" class="p"><circle cx="233" cy="298" r="11.5"/></g>
<g id="n136" class="p"><circle cx="249" cy="305" r="11.5"/></g>
<g id="n137" class="p"><circle cx="256" cy="334" r="11.5"/></g>
<g id="n138" class="p"><circle cx="213" cy="344" r="11.5"/></g>
<g id="n139" class="p"><circle cx="226" cy="343" r="11.5"/></g>
<g id="n140" class="p"><circle cx="227" cy="362" r="11.5"/></g>
<g id="n141" class="p"><circle cx="243" cy="364" r="11.5"/></g>
<g id="n142" class="p"><circle cx="255" cy="361" r="11.5"/></g>
<g id="n143" class="p"><circle cx="253" cy="384" r="11.5"/></g>
<g id="n144" class="p"><circle cx="282" cy="292" r="11.5"/></g>
<g id="n145" class="p"><circle cx="292" cy="302" r="11.5"/></g>
<g id="n146" class="p"><circle cx="304" cy="294" r="11.5"/></g>
<g id="n147" class="p"><circle cx="312" cy="315" r="11.5"/></g>
<g id="n148" class="p"><circle cx="314" cy="329" r="11.5"/></g>
<g id="n149" class="p"><circle cx="300" cy="354" r="11.5"/></g>
<g id="n150" class="p"><circle cx="304" cy="369" r="11.5"/></g>
<g id="n151" class="p"><circle cx="288" cy="382" r="11.5"/></g>
<g id="n152" class="p"><circle cx="298" cy="397" r="11.5"/></g>
<g id="n153" class="p"><circle cx="322" cy="381" r="11.5"/></g>
<g id="n154" class="p"><circle cx="323" cy="396" r="11.5"/></g>
<g id="n155" class="p"><circle cx="303" cy="413" r="11.5"/></g>
<g id="n156" class="p"><circle cx="309" cy="431" r="11.5"/></g>
<g id="n157" class="p"><circle cx="255" cy="429" r="11.5"/></g>
<g id="n158" class="p"><circle cx="252" cy="440" r="11.5"/></g>
<g id="n159" class="p"><circle cx="266" cy="444" r="11.5"/></g>
<g id="n160" class="p"><circle cx="295" cy="446" r="11.5"/></g>
<g id="n161" class="p"><circle cx="287" cy="454" r="11.5"/></g>
<g id="n162" class="p"><circle cx="280" cy="468" r="11.5"/></g>
<g id="n163" class="p"><circle cx="277" cy="478" r="11.5"/></g>
<g id="n164" class="p"><circle cx="269" cy="474" r="11.5"/></g>
<g id="n165" class="p"><circle cx="250" cy="473" r="11.5"/></g>
<g id="n166" class="p"><circle cx="326" cy="446" r="11.5"/></g>
<g id="n167" class="p"><circle cx="322" cy="454" r="11.5"/></g>
<g id="n168" class="p"><circle cx="316" cy="498" r="11.5"/></g>
<g id="n169" class="p"><circle cx="326" cy="504" r="11.5"/></g>
<g id="n170" class="p"><circle cx="379" cy="308" r="11.5"/></g>
<g id="n171" class="p"><circle cx="442" cy="308" r="11.5"/></g>
<g id="n172" class="p"><circle cx="490" cy="309" r="11.5"/></g>
<g id="n173" class="p"><circle cx="579" cy="304" r="11.5"/></g>
<g id="n174" class="p"><circle cx="621" cy="304" r="11.5"/></g>
<g id="n175" class="p"><circle cx="387" cy="332" r="11.5"/></g>
<g id="n176" class="p"><circle cx="349" cy="336" r="11.5"/></g>
<g id="n177" class="p"><circle cx="356" cy="343" r="11.5"/></g>
<g id="n178" class="p"><circle cx="360" cy="354" r="11.5"/></g>
<g id="n179" class="p"><circle cx="406" cy="352" r="11.5"/></g>
<g id="n180" class="p"><circle cx="499" cy="340" r="11.5"/></g>
<g id="n181" class="p"><circle cx="483" cy="346" r="11.5"/></g>
<g id="n182" class="p"><circle cx="525" cy="329" r="11.5"/></g>
<g id="n183" class="p"><circle cx="538" cy="350" r="11.5"/></g>
<g id="n184" class="p"><circle cx="593" cy="330" r="11.5"/></g>
<g id="n185" class="p"><circle cx="619" cy="346" r="11.5"/></g>
<g id="n186" class="p"><circle cx="581" cy="354" r="11.5"/></g>
<g id="n187" class="p"><circle cx="352" cy="369" r="11.5"/></g>
<g id="n188" class="p"><circle cx="378" cy="374" r="11.5"/></g>
<g id="n189" class="p"><circle cx="376" cy="395" r="11.5"/></g>
<g id="n190" class="p"><circle cx="334" cy="381" r="11.5"/></g>
<g id="n191" class="p"><circle cx="449" cy="368" r="11.5"/></g>
<g id="n192" class="p"><circle cx="468" cy="384" r="11.5"/></g>
<g id="n193" class="p"><circle cx="538" cy="376" r="11.5"/></g>
<g id="n194" class="p"><circle cx="644" cy="378" r="11.5"/></g>
<g id="n195" class="p"><circle cx="629" cy="390" r="11.5"/></g>
<g id="n196" class="p"><circle cx="634" cy="415" r="11.5"/></g>
<g id="n197" class="p"><circle cx="340" cy="401" r="11.5"/></g>
<g id="n198" class="p"><circle cx="355" cy="407" r="11.5"/></g>
<g id="n199" class="p"><circle cx="418" cy="404" r="11.5"/></g>
<g id="n200" class="p"><circle cx="416" cy="424" r="11.5"/></g>
<g id="n201" class="p"><circle cx="416" cy="433" r="11.5"/></g>
<g id="n202" class="p"><circle cx="429" cy="424" r="11.5"/></g>
<g id="n203" class="p"><circle cx="460" cy="432" r="11.5"/></g>
<g id="n204" class="p"><circle cx="480" cy="445" r="11.5"/></g>
<g id="n205" class="p"><circle cx="504" cy="429" r="11.5"/></g>
<g id="n206" class="p"><circle cx="342" cy="439" r="11.5"/></g>
<g id="n207" class="p"><circle cx="333" cy="444" r="11.5"/></g>
<g id="n208" class="p"><circle cx="443" cy="450" r="11.5"/></g>
<g id="n209" class="p"><circle cx="421" cy="456" r="11.5"/></g>
<g id="n210" class="p"><circle cx="430" cy="464" r="11.5"/></g>
<g id="n211" class="p"><circle cx="424" cy="471" r="11.5"/></g>
<g id="n212" class="p"><circle cx="468" cy="469" r="11.5"/></g>
<g id="n213" class="p"><circle cx="459" cy="478" r="11.5"/></g>
<g id="n214" class="p"><circle cx="524" cy="458" r="11.5"/></g>
<g id="n215" class="p"><circle cx="545" cy="458" r="11.5"/></g>
<g id="n216" class="p"><circle cx="541" cy="471" r="11.5"/></g>
<g id="n217" class="p"><circle cx="553" cy="474" r="11.5"/></g>
<g id="n218" class="p"><circle cx="594" cy="473" r="11.5"/></g>
<g id="n219" class="p"><circle cx="614" cy="489" r="11.5"/></g>
<g id="n220" class="p"><circle cx="611" cy="497" r="11.5"/></g>
<g id="n221" class="p"><circle cx="634" cy="474" r="11.5"/></g>
<g id="n222" class="p"><circle cx="647" cy="490" r="11.5"/></g>
<g id="n223" class="p"><circle cx="653" cy="468" r="11.5"/></g>
<g id="n224" class="p"><circle cx="375" cy="484" r="11.5"/></g>
<g id="n225" class="p"><circle cx="379" cy="486" r="11.5"/></g>
<g id="n226" class="p"><circle cx="412" cy="484" r="11.5"/></g>
<g id="n227" class="p"><circle cx="386" cy="506" r="11.5"/></g>
<g id="n228" class="p"><circle cx="411" cy="508" r="11.5"/></g>
<g id="n229" class="p"><circle cx="350" cy="501" r="11.5"/></g>
<g id="n230" class="y"><circle cx="351" cy="527" r="11.5"/></g>
<g id="n231" class="p"><circle cx="426" cy="524" r="11.5"/></g>
<g id="n232" class="p"><circle cx="479" cy="509" r="11.5"/></g>
<g id="n233" class="p"><circle cx="482" cy="513" r="11.5"/></g>
<g id="n234" class="p"><circle cx="519" cy="513" r="11.5"/></g>
<g id="n235" class="p"><circle cx="521" cy="518" r="11.5"/></g>
<g id="n236" class="p"><circle cx="557" cy="513" r="11.5"/></g>
<g id="n237" class="y"><circle cx="533" cy="534" r="11.5"/></g>
<g id="n238" class="y"><circle cx="549" cy="530" r="11.5"/></g>
<g id="n239" class="p"><circle cx="577" cy="526" r="11.5"/></g>
<g id="n240" class="p"><circle cx="603" cy="528" r="11.5"/></g>
<g id="n241" class="p"><circle cx="589" cy="523" r="11.5"/></g>
<g id="n242" class="p"><circle cx="636" cy="523" r="11.5"/></g>
<g id="n243" class="p"><circle cx="549" cy="558" r="11.5"/></g>
<g id="n244" class="t"><polygon points="579,389 592,402 579,415 566,402"/></g>
<g id="n245" class="p"><circle cx="690" cy="304" r="11.5"/></g>
<g id="n246" class="p"><circle cx="853" cy="305" r="11.5"/></g>
<g id="n247" class="p"><circle cx="887" cy="321" r="11.5"/></g>
<g id="n248" class="p"><circle cx="711" cy="327" r="11.5"/></g>
<g id="n249" class="p"><circle cx="778" cy="326" r="11.5"/></g>
<g id="n250" class="p"><circle cx="683" cy="348" r="11.5"/></g>
<g id="n251" class="p"><circle cx="718" cy="358" r="11.5"/></g>
<g id="n252" class="p"><circle cx="792" cy="347" r="11.5"/></g>
<g id="n253" class="p"><circle cx="964" cy="348" r="11.5"/></g>
<g id="n254" class="p"><circle cx="964" cy="364" r="11.5"/></g>
<g id="n255" class="y"><circle cx="673" cy="383" r="11.5"/></g>
<g id="n256" class="p"><circle cx="720" cy="394" r="11.5"/></g>
<g id="n257" class="p"><circle cx="710" cy="408" r="11.5"/></g>
<g id="n258" class="p"><circle cx="755" cy="394" r="11.5"/></g>
<g id="n259" class="p"><circle cx="792" cy="410" r="11.5"/></g>
<g id="n260" class="p"><circle cx="847" cy="394" r="11.5"/></g>
<g id="n261" class="p"><circle cx="838" cy="405" r="11.5"/></g>
<g id="n262" class="p"><circle cx="676" cy="406" r="11.5"/></g>
<g id="n263" class="p"><circle cx="676" cy="416" r="11.5"/></g>
<g id="n264" class="p"><circle cx="665" cy="424" r="11.5"/></g>
<g id="n265" class="p"><circle cx="759" cy="418" r="11.5"/></g>
<g id="n266" class="p"><circle cx="736" cy="429" r="11.5"/></g>
<g id="n267" class="p"><circle cx="763" cy="437" r="11.5"/></g>
<g id="n268" class="p"><circle cx="719" cy="435" r="11.5"/></g>
<g id="n269" class="p"><circle cx="724" cy="435" r="11.5"/></g>
<g id="n270" class="p"><circle cx="699" cy="443" r="11.5"/></g>
<g id="n271" class="p"><circle cx="819" cy="442" r="11.5"/></g>
<g id="n272" class="p"><circle cx="802" cy="454" r="11.5"/></g>
<g id="n273" class="p"><circle cx="810" cy="462" r="11.5"/></g>
<g id="n274" class="p"><circle cx="792" cy="472" r="11.5"/></g>
<g id="n275" class="p"><circle cx="740" cy="452" r="11.5"/></g>
<g id="n276" class="p"><circle cx="719" cy="458" r="11.5"/></g>
<g id="n277" class="p"><circle cx="727" cy="466" r="11.5"/></g>
<g id="n278" class="p"><circle cx="748" cy="469" r="11.5"/></g>
<g id="n279" class="p"><circle cx="688" cy="454" r="11.5"/></g>
<g id="n280" class="p"><circle cx="665" cy="464" r="11.5"/></g>
<g id="n281" class="p"><circle cx="675" cy="471" r="11.5"/></g>
<g id="n282" class="p"><circle cx="865" cy="478" r="11.5"/></g>
<g id="n283" class="p"><circle cx="880" cy="430" r="11.5"/></g>
<g id="n284" class="p"><circle cx="897" cy="418" r="11.5"/></g>
<g id="n285" class="p"><circle cx="915" cy="431" r="11.5"/></g>
<g id="n286" class="p"><circle cx="903" cy="445" r="11.5"/></g>
<g id="n287" class="p"><circle cx="939" cy="453" r="11.5"/></g>
<g id="n288" class="p"><circle cx="924" cy="472" r="11.5"/></g>
<g id="n289" class="p"><circle cx="933" cy="404" r="11.5"/></g>
<g id="n290" class="p"><circle cx="970" cy="393" r="11.5"/></g>
<g id="n291" class="p"><circle cx="965" cy="409" r="11.5"/></g>
<g id="n292" class="p"><circle cx="975" cy="410" r="11.5"/></g>
<g id="n293" class="p"><circle cx="979" cy="463" r="11.5"/></g>
<g id="n294" class="p"><circle cx="964" cy="479" r="11.5"/></g>
<g id="n295" class="g"><circle cx="855" cy="512" r="11.5"/></g>
<g id="n296" class="p"><circle cx="928" cy="509" r="11.5"/></g>
<g id="n297" class="p"><circle cx="911" cy="512" r="11.5"/></g>
<g id="n298" class="p"><circle cx="899" cy="530" r="11.5"/></g>
<g id="n299" class="p"><circle cx="759" cy="530" r="11.5"/></g>
</g>
</svg>
